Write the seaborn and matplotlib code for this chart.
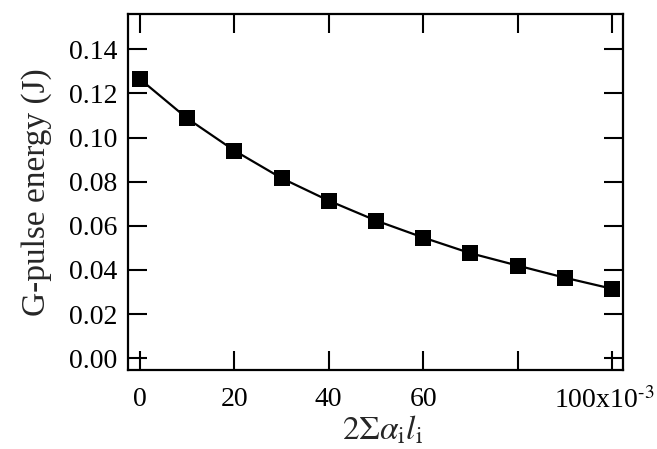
import matplotlib
matplotlib.use("Agg")
import matplotlib.pyplot as plt
import matplotlib.transforms as mtransforms
import seaborn as sns
import pandas as pd

# Round-trip absorption loss (2 Σ α_i l_i) vs. G-pulse output energy
loss = [0.00, 0.01, 0.02, 0.03, 0.04, 0.05, 0.06, 0.07, 0.08, 0.09, 0.10]
energy = [0.1265, 0.1087, 0.0941, 0.0816, 0.0714, 0.0624, 0.0547, 0.0476, 0.0420, 0.0365, 0.0315]

x_ticks = [0.00, 0.02, 0.04, 0.06, 0.08, 0.10]
x_tick_labels = ["0", "20", "40", "60", "", r"100x10$^{\text{-3}}$"]
y_ticks = [0.00, 0.02, 0.04, 0.06, 0.08, 0.10, 0.12, 0.14]

sns.set_theme(style="ticks")
plt.rcParams["font.family"] = ["Liberation Serif", "DejaVu Serif"]
plt.rcParams["mathtext.fontset"] = "stix"

df = pd.DataFrame({"loss": loss, "energy": energy})

fig = plt.figure(figsize=(6.57, 4.49), dpi=100)
ax = fig.add_axes([0.195, 0.176, 0.753, 0.793])

sns.lineplot(data=df, x="loss", y="energy", ax=ax, color="black",
             linewidth=1.6, marker="s", markersize=11, markeredgewidth=0,
             markerfacecolor="black")

ax.set_xlim(-0.0025, 0.1023)
ax.set_ylim(-0.0053, 0.156)
ax.set_xticks(x_ticks)
ax.set_xticklabels(x_tick_labels)
ax.set_yticks(y_ticks)
ax.set_yticklabels([f"{v:.2f}" for v in y_ticks])

ax.tick_params(direction="in", length=14, width=1.5, labelsize=20,
               top=True, right=True, colors="black")
ax.tick_params(axis="x", pad=12)
ax.tick_params(axis="y", pad=8)
for s in ax.spines.values():
    s.set_linewidth(1.6)
    s.set_color("black")

# keep the last x label inside the figure: right-align it near the edge
last = ax.get_xticklabels()[-1]
last.set_horizontalalignment("right")
last.set_transform(last.get_transform() +
                   mtransforms.ScaledTranslation(0.43, 0, fig.dpi_scale_trans))

ax.set_xlabel(r"$2\Sigma\alpha_{\rm i}l_{\rm i}$", fontsize=24, labelpad=0)
ax.xaxis.label.set_x(0.515)
ax.set_ylabel("G-pulse energy (J)", fontsize=24, labelpad=12)

fig.savefig("out.png", dpi=100)
